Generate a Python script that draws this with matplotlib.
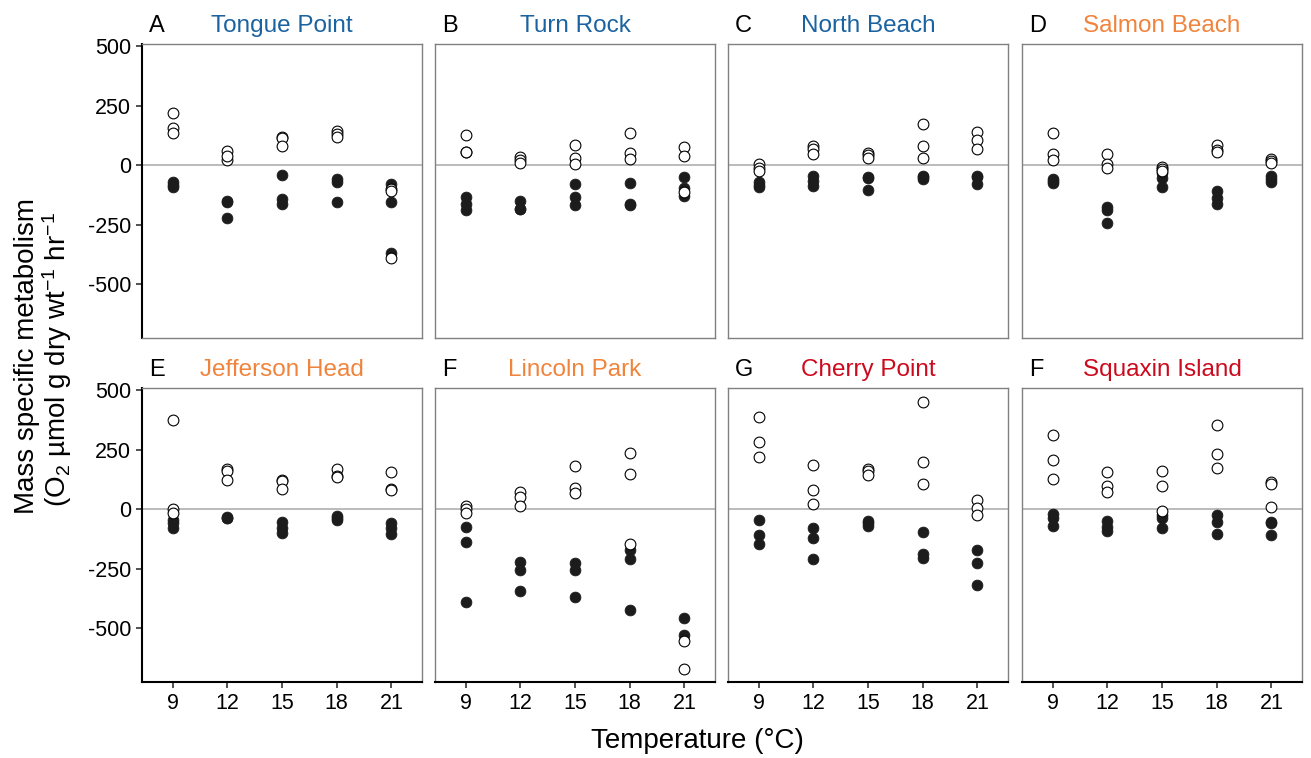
import numpy as np
import matplotlib
matplotlib.use("Agg")
import matplotlib.pyplot as plt

plt.rcParams["font.family"] = ["Liberation Sans", "DejaVu Sans"]
plt.rcParams["axes.unicode_minus"] = False
plt.rcParams["mathtext.fontset"] = "custom"
plt.rcParams["mathtext.rm"] = "Liberation Sans"
plt.rcParams["mathtext.it"] = "Liberation Sans:italic"

temps = ["9", "12", "15", "18", "21"]
sites = ["Tongue Point", "Turn Rock", "North Beach", "Salmon Beach",
         "Jefferson Head", "Lincoln Park", "Cherry Point", "Squaxin Island"]
letters = ["A", "B", "C", "D", "E", "F", "G", "F"]
BLUE, ORANGE, RED = "#1b63a0", "#f0843c", "#cc0a1e"
title_colors = [BLUE, BLUE, BLUE, ORANGE, ORANGE, ORANGE, RED, RED]

# open circles (one list per temperature)
tongue_open = [[221, 157, 136], [60, 22, 40], [119, 115, 81], [143, 132, 118], [-98, -107, -389]]
tongue_fill = [[-72, -83, -93], [-151, -153, -224], [-42, -142, -163], [-56, -72, -156], [-79, -156, -371]]
turn_open = [[126, 57, 54], [36, 21, 11], [86, 32, 4], [135, 50, 25], [75, 37, -114]]
turn_fill = [[-132, -165, -190], [-149, -183, -186], [-81, -133, -169], [-76, -164, -168], [-49, -97, -128]]
north_open = [[4, -10, -26], [81, 67, 49], [53, 43, 29], [174, 82, 31], [140, 104, 67]]
north_fill = [[-72, -82, -93], [-44, -65, -86], [-49, -52, -104], [-44, -51, -58], [-44, -48, -79]]
salmon_open = [[135, 49, 24], [49, 4, -10], [-7, -17, -26], [85, 62, 57], [25, 18, 11]]
salmon_fill = [[-56, -65, -76], [-176, -190, -243], [-31, -54, -93], [-110, -138, -165], [-44, -58, -72]]
jefferson_open = [[377, 0, -14], [171, 162, 124], [124, 119, 84], [171, 140, 136], [155, 84, 80]]
jefferson_fill = [[-46, -56, -77], [-32, -36, -39], [-52, -77, -101], [-28, -38, -46], [-56, -77, -103]]
lincoln_open = [[14, 0, -14], [74, 52, 14], [183, 91, 67], [235, 148, -148], [-555, -674]]
lincoln_fill = [[-74, -136, -391], [-222, -257, -344], [-228, -257, -370], [-173, -208, -426], [-457, -530]]
cherry_open = [[386, 281, 221], [185, 81, 22], [171, 159, 145], [451, 198, 108], [38, 7, -24]]
cherry_fill = [[-46, -108, -145], [-81, -122, -208], [-49, -60, -70], [-94, -190, -204], [-173, -228, -319]]
squaxin_open = [[312, 209, 128], [156, 96, 74], [159, 97, -7], [354, 233, 173], [115, 108, 10]]
squaxin_fill = [[-21, -38, -70], [-49, -73, -91], [-25, -35, -81], [-24, -55, -105], [-55, -58, -108]]

open_vals = [tongue_open, turn_open, north_open, salmon_open,
             jefferson_open, lincoln_open, cherry_open, squaxin_open]
fill_vals = [tongue_fill, turn_fill, north_fill, salmon_fill,
             jefferson_fill, lincoln_fill, cherry_fill, squaxin_fill]

W, H = 1311, 758
fig = plt.figure(figsize=(W / 100, H / 100), dpi=100)

lefts = [142, 435, 728, 1022]
tops = [44, 388]
pw, ph = 280, 294

for k in range(8):
    row, col = divmod(k, 4)
    ax = fig.add_axes([lefts[col] / W, 1 - (tops[row] + ph) / H, pw / W, ph / H])
    ax.axhline(0, color="#b5b5b5", lw=1.3, zorder=1)
    for i, t in enumerate(temps):
        f = fill_vals[k][i]
        o = open_vals[k][i]
        ax.scatter([t] * len(f), f, s=60, color="#1c1c1c", edgecolors="#1c1c1c",
                   linewidths=0.6, zorder=2)
        ax.scatter([t] * len(o), o, s=60, facecolors="white", edgecolors="black",
                   linewidths=0.8, zorder=3)
    ax.set_xlim(-0.56, 4.56)
    ax.set_ylim(-727, 510)
    ax.set_yticks([500, 250, 0, -250, -500])
    for sp in ax.spines.values():
        sp.set_color("#808080")
        sp.set_linewidth(1.0)
    ax.tick_params(axis="both", direction="out", length=4.5, width=1.2,
                   labelsize=15.5, color="#333333", pad=3.5)
    if col == 0:
        ax.spines["left"].set_color("black")
        ax.spines["left"].set_linewidth(1.5)
    else:
        ax.tick_params(axis="y", left=False, labelleft=False)
    if row == 1:
        ax.spines["bottom"].set_color("black")
        ax.spines["bottom"].set_linewidth(1.5)
    else:
        ax.tick_params(axis="x", bottom=False, labelbottom=False)
    ax.text(0.5, 1 + 12 / ph, sites[k], transform=ax.transAxes, ha="center",
            va="baseline", fontsize=17.5, color=title_colors[k])
    ax.text(0.025, 1 + 12 / ph, letters[k], transform=ax.transAxes, ha="left",
            va="baseline", fontsize=17, color="black")

fig.text(697 / W, 1 - 748 / H, "Temperature (°C)", ha="center", va="baseline", fontsize=20)
fig.text(27 / W, 1 - 356 / H, "Mass specific metabolism", rotation=90,
         ha="center", va="center", fontsize=20)
fig.text(57 / W, 1 - 360 / H, r"(O$_2$ µmol g dry wt$^{-1}$ hr$^{-1}$", rotation=90,
         ha="center", va="center", fontsize=20)

fig.savefig("out.png", dpi=100, facecolor="white")
